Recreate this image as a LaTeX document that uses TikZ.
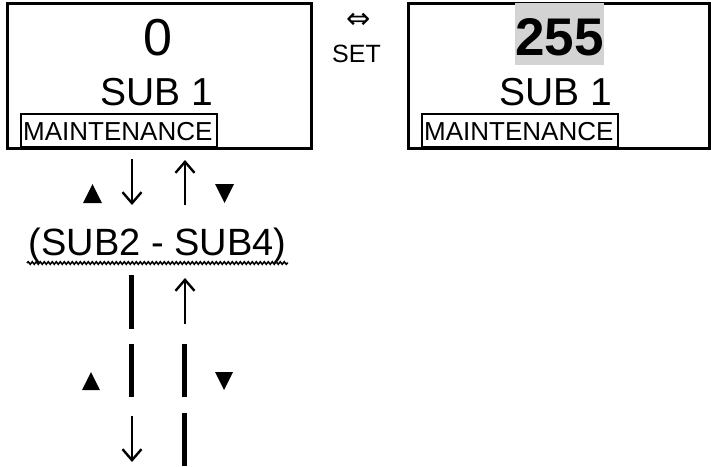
\documentclass[tikz,border=0pt]{standalone}
\usepackage{fontspec}
\setmainfont{Liberation Sans}
\newfontfamily\dejavu{DejaVu Sans}
\usetikzlibrary{arrows.meta,decorations.pathmorphing}
\definecolor{hl}{RGB}{211,211,211}
\begin{document}
\begin{tikzpicture}[x=1pt,y=-1pt,
  frame/.style={draw,line width=3pt},
  tagbox/.style={draw,line width=2.5pt},
  txt/.style={inner sep=0pt,anchor=base},
  bar/.style={line width=5pt},
  arr/.style={line width=2.4pt,-{Straight Barb[length=11pt,width=19pt,line width=2.4pt]}},
  tri/.style={fill=black}]
\useasboundingbox (0,0) rectangle (711,466);
% left display
\draw[frame] (7,3) rectangle (311,148);
\node[txt,font=\fontsize{52}{52}\selectfont] (zero) at (158,55) {0};
\node[txt,font=\fontsize{39}{39}\selectfont] (subL) at (157,105) {SUB 1};
\draw[tagbox] (21,114) rectangle (217,147);
\node[txt,anchor=base west,font=\fontsize{26}{26}\selectfont] (mL) at (23,140) {MAINTENANCE};
% set
\node[txt,font=\dejavu\fontsize{29}{29}\selectfont] (eq) at (358.5,28) {⇔};
\node[txt,font=\fontsize{25}{25}\selectfont] (set) at (356.5,62) {SET};
% right display
\draw[frame] (408,3) rectangle (709.5,148);
\fill[hl] (515,3) rectangle (604,65);
\node[txt,font=\bfseries\fontsize{53}{53}\selectfont] (val) at (559.5,55) {255};
\node[txt,font=\fontsize{39}{39}\selectfont] (subR) at (556,105) {SUB 1};
\draw[tagbox] (422,114) rectangle (618,147);
\node[txt,anchor=base west,font=\fontsize{26}{26}\selectfont] (mR) at (424,140) {MAINTENANCE};
% upper arrows
\fill[tri] (83,203) -- (102,203) -- (92.5,184) -- cycle;
\draw[arr] (132,159) -- (132,205);
\draw[arr] (185,205) -- (185,160);
\fill[tri] (215,184) -- (234,184) -- (224.5,203) -- cycle;
% sub range
\node[txt,font=\fontsize{38}{38}\selectfont] (range) at (157.5,255) {(SUB2 - SUB4)};
\draw[line width=1.5pt,decorate,decoration={snake,amplitude=1.3pt,segment length=4pt}] (27,263) -- (288,263);
% lower column
\draw[bar] (131.5,275) -- (131.5,329);
\draw[arr] (185,324) -- (185,278);
\draw[bar] (131.5,344) -- (131.5,397);
\draw[bar] (184.5,344) -- (184.5,397);
\fill[tri] (82,390) -- (100,390) -- (91,372) -- cycle;
\fill[tri] (215,372) -- (233,372) -- (224,390) -- cycle;
\draw[arr] (132,416) -- (132,462);
\draw[bar] (184.5,413) -- (184.5,466);
\end{tikzpicture}
\end{document}
